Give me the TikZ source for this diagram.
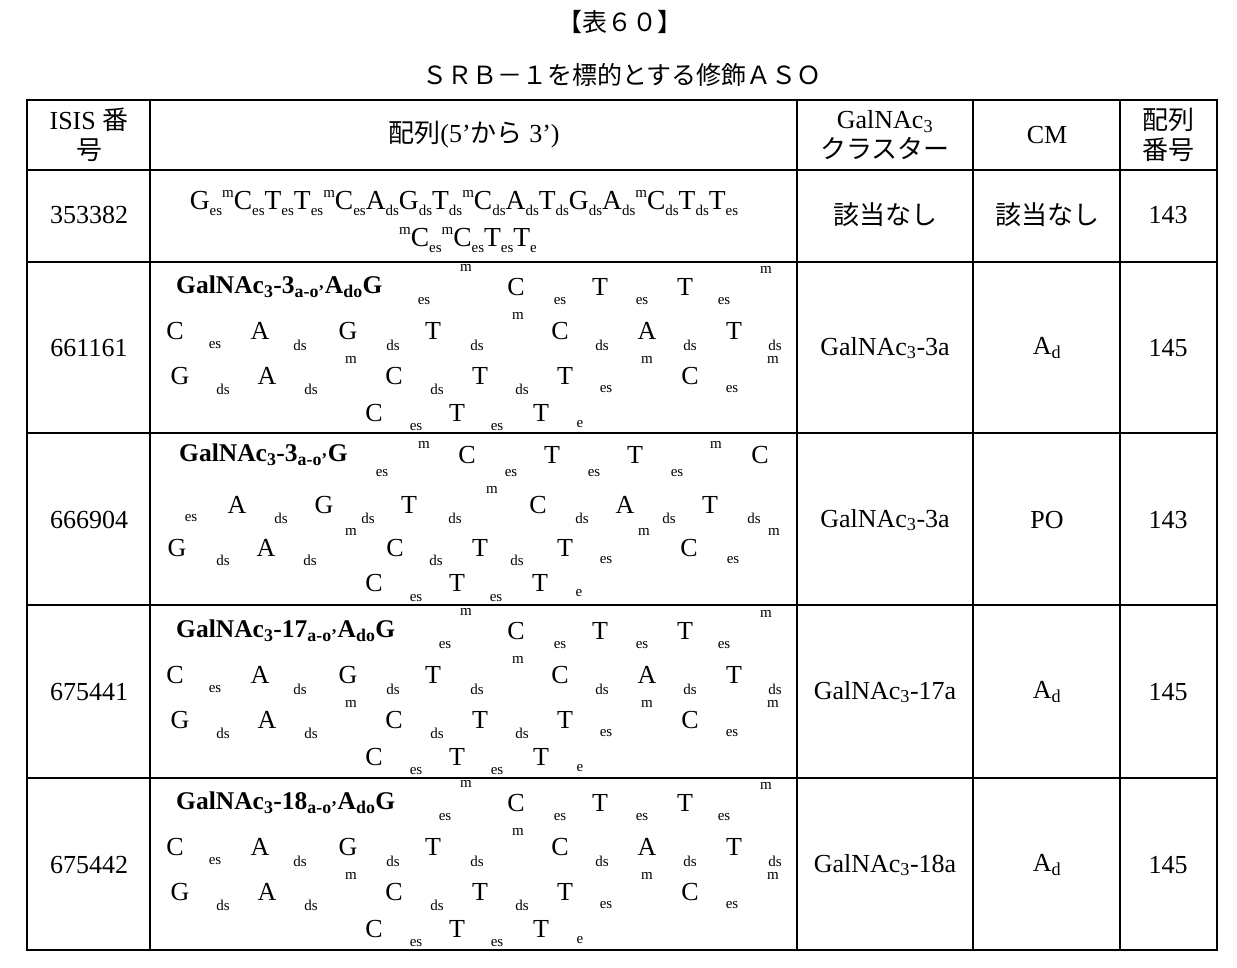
\documentclass[tikz,border=0pt]{standalone}
\usepackage{fontspec}
\setmainfont{Liberation Serif}
\newfontfamily\cjk{Noto Sans CJK JP}
\tikzset{
 big/.style={inner sep=0pt,font=\fontsize{26}{28}\selectfont},
 sml/.style={inner sep=0pt,font=\fontsize{15}{16}\selectfont},
 bld/.style={inner sep=0pt,anchor=west,font=\fontsize{25.5}{27}\selectfont\bfseries},
 cell/.style={inner sep=0pt,align=center,font=\fontsize{26}{30}\selectfont},
 grid/.style={line width=1.3pt}
}
\newcommand\Bg[3]{\node[big] at (#1,{#2}) {#3};}
\newcommand\Sm[3]{\node[sml] at (#1,{#2}) {#3};}
\newcommand\sbx[1]{\raisebox{-0.45ex}{\fontsize{15}{16}\selectfont #1}}
\newcommand\spx{\raisebox{1.0ex}{\fontsize{15}{16}\selectfont m}}
\newcommand\pat[3]{%
 \node[bld] at (176,{631+#1}) {#2};
 \Sm{#3}{645+#1}{es}\Sm{466}{612+#1}{m}\Bg{516}{631+#1}{C}\Sm{560}{645+#1}{es}
 \Bg{600}{631+#1}{T}\Sm{642}{645+#1}{es}\Bg{685}{631+#1}{T}\Sm{724}{645+#1}{es}\Sm{766}{614+#1}{m}
 \Bg{175}{675+#1}{C}\Sm{215}{689+#1}{es}\Bg{260}{675+#1}{A}\Sm{300}{689+#1}{ds}
 \Bg{348}{675+#1}{G}\Sm{393}{689+#1}{ds}\Bg{433}{675+#1}{T}\Sm{477}{689+#1}{ds}
 \Sm{518}{660+#1}{m}\Bg{560}{675+#1}{C}\Sm{602}{689+#1}{ds}\Bg{647}{675+#1}{A}
 \Sm{690}{689+#1}{ds}\Bg{734}{675+#1}{T}\Sm{775}{689+#1}{ds}\Sm{773}{704+#1}{m}
 \Bg{180}{720+#1}{G}\Sm{223}{733+#1}{ds}\Bg{267}{720+#1}{A}\Sm{311}{733+#1}{ds}
 \Sm{351}{704+#1}{m}\Bg{394}{720+#1}{C}\Sm{437}{733+#1}{ds}\Bg{480}{720+#1}{T}
 \Sm{522}{733+#1}{ds}\Bg{565}{720+#1}{T}\Sm{606}{733+#1}{es}\Sm{647}{704+#1}{m}
 \Bg{690}{720+#1}{C}\Sm{732}{733+#1}{es}
 \Bg{374}{757+#1}{C}\Sm{416}{771+#1}{es}\Bg{457}{757+#1}{T}\Sm{497}{771+#1}{es}
 \Bg{541}{757+#1}{T}\Sm{580}{768+#1}{e}}
\begin{document}
\begin{tikzpicture}[x=1pt,y=-1pt]
\useasboundingbox (0,0) rectangle (1237,968);
\fill[white] (0,0) rectangle (1237,968);
\node[cell,font=\fontsize{25}{26}\selectfont\cjk] (ttl) at (620,22) {【表６０】};
\node[cell,font=\fontsize{25}{26}\selectfont\cjk] (sub) at (622,75) {ＳＲＢ－１を標的とする修飾ＡＳＯ};
\draw[grid] (27,100) rectangle (1217,950);
\foreach \x in {150,797,973,1120} \draw[grid] (\x,100) -- (\x,950);
\foreach \y in {170,262,433,605,778} \draw[grid] (27,\y) -- (1217,\y);
\node[cell] (h1) at (89,135) {ISIS {\cjk 番}\\{\cjk 号}};
\node[cell] (h2) at (474,135) {{\cjk 配列}(5'{\cjk から} 3')};
\node[cell] (h3) at (885,135) {GalNAc\textsubscript{3}\\{\cjk クラスター}};
\node[cell] (h4) at (1047,135) {CM};
\node[cell,font=\fontsize{26}{30}\selectfont\cjk] (h5) at (1168,135) {配列\\番号};
\node[cell] at (89,215) {353382};
\node[cell] at (89,348) {661161};
\node[cell] at (89,520) {666904};
\node[cell] at (89,692) {675441};
\node[cell] at (89,865) {675442};
\node[cell,font=\fontsize{26}{30}\selectfont\cjk] at (885,215) {該当なし};
\node[cell] at (885,348) {GalNAc\textsubscript{3}-3a};
\node[cell] at (885,520) {GalNAc\textsubscript{3}-3a};
\node[cell] at (885,692) {GalNAc\textsubscript{3}-17a};
\node[cell] at (885,865) {GalNAc\textsubscript{3}-18a};
\node[cell,font=\fontsize{26}{30}\selectfont\cjk] at (1047,215) {該当なし};
\node[cell] at (1047,348) {A\textsubscript{d}};
\node[cell] at (1047,520) {PO};
\node[cell] at (1047,692) {A\textsubscript{d}};
\node[cell] at (1047,865) {A\textsubscript{d}};
\node[cell] at (1168,215) {143};
\node[cell] at (1168,348) {145};
\node[cell] at (1168,520) {143};
\node[cell] at (1168,692) {145};
\node[cell] at (1168,865) {145};
\node[big,font=\fontsize{27.5}{29}\selectfont] (s1a) at (464,203) {G\sbx{es}\spx C\sbx{es}T\sbx{es}T\sbx{es}\spx C\sbx{es}A\sbx{ds}G\sbx{ds}T\sbx{ds}\spx C\sbx{ds}A\sbx{ds}T\sbx{ds}G\sbx{ds}A\sbx{ds}\spx C\sbx{ds}T\sbx{ds}T\sbx{es}};
\node[big,font=\fontsize{27.5}{29}\selectfont] (s1b) at (468,240) {\spx C\sbx{es}\spx C\sbx{es}T\sbx{es}T\sbx{e}};
\pat{-344}{GalNAc\textsubscript{3}-3\textsubscript{a-o'}A\textsubscript{do}G}{424}
\node[bld] at (179,455) {GalNAc\textsubscript{3}-3\textsubscript{a-o'}G};
\Sm{382}{473}{es}\Sm{424}{445}{m}\Bg{467}{455}{C}\Sm{511}{473}{es}\Bg{552}{455}{T}\Sm{594}{473}{es}
\Bg{635}{455}{T}\Sm{677}{473}{es}\Sm{716}{445}{m}\Bg{760}{455}{C}
\Sm{191}{518}{es}\Bg{237}{505}{A}\Sm{281}{518}{ds}\Bg{324}{505}{G}\Sm{368}{518}{ds}\Bg{409}{505}{T}
\Sm{455}{518}{ds}\Sm{492}{490}{m}\Bg{538}{505}{C}\Sm{582}{518}{ds}\Bg{625}{505}{A}\Sm{669}{518}{ds}
\Bg{710}{505}{T}\Sm{754}{518}{ds}
\Sm{351}{532}{m}\Bg{177}{548}{G}\Sm{223}{560}{ds}\Bg{266}{548}{A}\Sm{310}{560}{ds}\Bg{395}{548}{C}
\Sm{436}{560}{ds}\Bg{480}{548}{T}\Sm{517}{560}{ds}\Bg{565}{548}{T}\Sm{606}{560}{es}\Sm{644}{532}{m}
\Bg{689}{548}{C}\Sm{733}{560}{es}\Sm{774}{532}{m}
\Bg{374}{583}{C}\Sm{416}{598}{es}\Bg{457}{583}{T}\Sm{496}{598}{es}\Bg{540}{583}{T}\Sm{579}{593}{e}
\pat{0}{GalNAc\textsubscript{3}-17\textsubscript{a-o'}A\textsubscript{do}G}{445}
\pat{172}{GalNAc\textsubscript{3}-18\textsubscript{a-o'}A\textsubscript{do}G}{445}
\end{tikzpicture}
\end{document}
